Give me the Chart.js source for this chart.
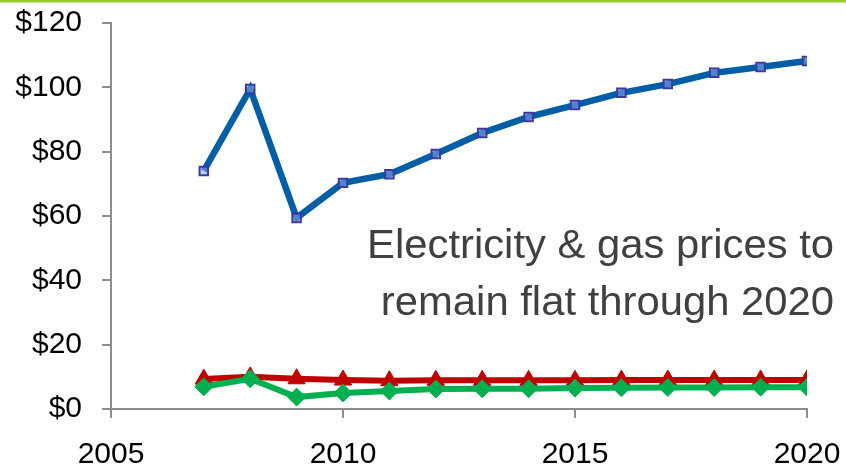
<!DOCTYPE html>
<html>
<head>
<meta charset="utf-8">
<script src="https://cdn.jsdelivr.net/npm/chart.js@4/dist/chart.umd.min.js"></script>
<style>
  html, body { margin: 0; padding: 0; background: #ffffff; }
  #wrap { position: relative; width: 846px; height: 471px; }
</style>
</head>
<body>
<div id="wrap"><canvas id="c" width="846" height="471"></canvas></div>
<script>
// Annual values, 2007-2020 ($)
const years = [2007, 2008, 2009, 2010, 2011, 2012, 2013, 2014, 2015, 2016, 2017, 2018, 2019, 2020];
const oilPrice = [74.0, 99.5, 59.4, 70.3, 73.0, 79.3, 85.8, 90.8, 94.5, 98.3, 101.0, 104.5, 106.3, 108.2];
const electricityPrice = [9.3, 10.0, 9.4, 9.0, 8.8, 8.9, 8.9, 8.9, 8.9, 9.0, 9.0, 9.0, 9.0, 9.0];
const gasPrice = [6.9, 9.4, 3.7, 5.0, 5.6, 6.2, 6.3, 6.3, 6.5, 6.6, 6.7, 6.7, 6.8, 6.8];
const yearTicks = [2005, 2010, 2015, 2020];
const noteLines = ['Electricity & gas prices to', 'remain flat through 2020'];

const toPoints = vals => vals.map((v, i) => ({ x: years[i], y: v }));

const FONT = "'Liberation Sans', Arial, sans-serif";

// Lime rule across the top edge and the callout text
const decor = {
  id: 'decor',
  afterDraw(chart) {
    const ctx = chart.ctx;
    ctx.save();
    ctx.fillStyle = '#99cc33';
    ctx.fillRect(0, 0, chart.width, 2.5);
    ctx.fillStyle = '#404040';
    ctx.font = '40px ' + FONT;
    ctx.textAlign = 'right';
    ctx.textBaseline = 'alphabetic';
    // slightly wide-set callout, anchored at its right edge
    ctx.translate(834, 0);
    ctx.scale(1.045, 1);
    ctx.fillText(noteLines[0], 0, 258);
    ctx.fillText(noteLines[1], 0, 315);
    ctx.restore();
  }
};

new Chart(document.getElementById('c'), {
  type: 'line',
  data: {
    datasets: [
      {
        label: 'Oil',
        data: toPoints(oilPrice),
        borderColor: '#005ea6',
        borderWidth: 6.5,
        pointStyle: 'rect',
        pointRadius: 6,
        pointBackgroundColor: 'rgba(140,165,225,0.55)',
        pointBorderColor: '#3a3aa6',
        pointBorderWidth: 2,
        tension: 0,
        order: 1
      },
      {
        label: 'Electricity',
        data: toPoints(electricityPrice),
        borderColor: '#c00000',
        borderWidth: 6,
        pointStyle: 'triangle',
        pointRadius: 10,
        pointBackgroundColor: '#c00000',
        pointBorderColor: '#c00000',
        pointBorderWidth: 1,
        tension: 0,
        order: 3
      },
      {
        label: 'Gas',
        data: toPoints(gasPrice),
        borderColor: '#00b050',
        borderWidth: 6,
        pointStyle: 'rectRot',
        pointRadius: 9,
        pointBackgroundColor: '#00b050',
        pointBorderColor: '#00b050',
        pointBorderWidth: 1,
        tension: 0,
        order: 2
      }
    ]
  },
  options: {
    responsive: false,
    animation: false,
    layout: { padding: { top: 23, right: 39, left: 0, bottom: 0 } },
    plugins: { legend: { display: false }, tooltip: { enabled: false } },
    scales: {
      x: {
        type: 'linear',
        min: 2005,
        max: 2020,
        afterBuildTicks(scale) { scale.ticks = yearTicks.map(v => ({ value: v })); },
        afterFit(scale) { scale.height = 62; scale.paddingLeft = 0; scale.paddingRight = 0; },
        border: { display: true, color: '#8c8c8c', width: 2 },
        grid: { display: true, drawOnChartArea: false, drawTicks: true, tickLength: 9, color: '#8c8c8c', lineWidth: 2 },
        ticks: { color: '#000000', font: { family: FONT, size: 30 }, padding: 19, maxRotation: 0, callback: v => String(v) }
      },
      y: {
        min: 0,
        max: 120,
        afterFit(scale) { scale.width = 111; scale.paddingTop = 0; scale.paddingBottom = 0; },
        border: { display: true, color: '#8c8c8c', width: 2 },
        grid: { display: true, drawOnChartArea: false, drawTicks: true, tickLength: 9, color: '#8c8c8c', lineWidth: 2 },
        ticks: { stepSize: 20, color: '#000000', font: { family: FONT, size: 30 }, padding: 20, callback: v => '$' + v }
      }
    }
  },
  plugins: [decor]
});
</script>
</body>
</html>
